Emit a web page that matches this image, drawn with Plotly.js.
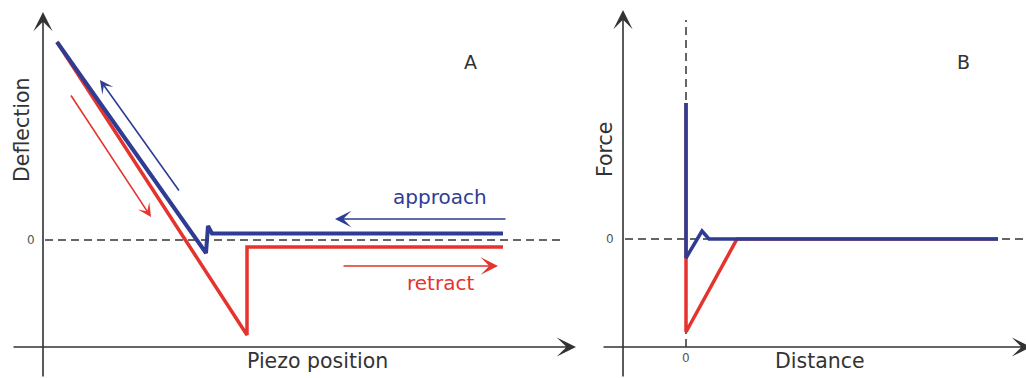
<!DOCTYPE html>
<html><head><meta charset="utf-8">
<script src="https://cdn.plot.ly/plotly-3.0.1.min.js"></script>
<style>html,body{margin:0;padding:0;background:#fff}#chart{width:1026px;height:378px}</style>
</head><body><div id="chart"></div>
<script>
// Panel A: cantilever deflection vs piezo position
const piezoApproach = [92, 33.8, 33, 32.6, 2.8];
const deflApproach  = [1.3, 1.3, 2.8, -2.6, 39.6];
const piezoRetract  = [2.8, 40.8, 40.8, 92];
const deflRetract   = [39.6, -19, -1.4, -1.4];
// Panel B: force vs tip-sample distance
const distApproach  = [62.4, 4.6, 3.2, 0, 0];
const forceApproach = [0, 0, 1.6, -3.8, 27.2];
const distRetract   = [0, 0, 10.2, 62.4];
const forceRetract  = [27.2, -18.6, 0, 0];

const blue = '#2f3c93';
const red = '#e5332d';
const ink = '#333333';
const font = 'DejaVu Sans';

function curve(x, y, color, width, xa, ya) {
  return {x: x, y: y, xaxis: xa, yaxis: ya, mode: 'lines', hoverinfo: 'skip',
          line: {color: color, width: width, shape: 'linear'}};
}

const data = [
  curve(piezoRetract, deflRetract, red, 3.5, 'x', 'y'),
  curve(piezoApproach, deflApproach, blue, 4, 'x', 'y'),
  curve(distRetract, forceRetract, red, 3.5, 'x2', 'y2'),
  curve(distApproach, forceApproach, blue, 3.5, 'x2', 'y2')
];

function dashed(xr, yr, x0, y0, x1, y1) {
  return {type: 'line', layer: 'below', xref: xr, yref: yr, x0: x0, y0: y0, x1: x1, y1: y1,
          line: {color: ink, width: 1.5, dash: '8px,5px'}};
}

function arrow(xr, yr, tx, ty, fx, fy, color, width, size) {
  return {xref: xr, yref: yr, axref: xr, ayref: yr, x: tx, y: ty, ax: fx, ay: fy,
          text: '', showarrow: true, arrowhead: 3, arrowsize: size,
          arrowwidth: width, arrowcolor: color, standoff: 0, startstandoff: 0};
}

function label(xr, yr, x, y, text, color, size, angle) {
  return {xref: xr, yref: yr, x: x, y: y, text: text, showarrow: false,
          textangle: angle || 0, font: {family: font, size: size, color: color}};
}

const layout = {
  width: 1026, height: 378,
  margin: {l: 0, r: 0, t: 0, b: 0},
  showlegend: false,
  font: {family: font},
  paper_bgcolor: '#ffffff', plot_bgcolor: '#ffffff',
  xaxis:  {domain: [0, 600 / 1026], range: [-8.6, 111.4], visible: false, fixedrange: true},
  yaxis:  {domain: [0, 1], range: [-27.6, 48], visible: false, fixedrange: true},
  xaxis2: {domain: [600 / 1026, 1], range: [-17.2, 68], visible: false, anchor: 'y2', fixedrange: true},
  yaxis2: {domain: [0, 1], range: [-27.8, 47.8], visible: false, anchor: 'x2', fixedrange: true},
  shapes: [
    dashed('x', 'y', 0.4, 0, 103.4, 0),
    dashed('x2', 'y2', -12.2, 0, 68, 0),
    dashed('x2', 'y2', 0, -21.6, 0, 43.8)
  ],
  annotations: [
    // axes of panel A
    arrow('x', 'y', 0, 45.6, 0, -27.6, ink, 1.6, 2),
    arrow('x', 'y', 106.6, -21.4, -6.2, -21.4, ink, 1.6, 2),
    // axes of panel B
    arrow('x2', 'y2', -12.6, 45.8, -12.6, -27.8, ink, 1.6, 2),
    arrow('x2', 'y2', 69, -21.6, -16.8, -21.6, ink, 1.6, 2),
    // direction arrows of panel A
    arrow('x', 'y', 11.4, 32, 27.4, 9.6, blue, 1.6, 1.4),
    arrow('x', 'y', 21.6, 4.6, 5.4, 29.2, red, 1.6, 1.4),
    arrow('x', 'y', 58.4, 4.2, 92.8, 4.2, blue, 1.7, 1.6),
    arrow('x', 'y', 91, -5.2, 59.8, -5.2, red, 1.7, 1.7),
    // texts
    label('x', 'y', -4.2, 22, 'Deflection', ink, 20.5, -90),
    label('x', 'y', 54.8, -24.2, 'Piezo position', ink, 20.5),
    label('x', 'y', 85.4, 35.6, 'A', ink, 19),
    label('x', 'y', 79.4, 8.6, 'approach', blue, 20),
    label('x', 'y', 79.4, -8.6, 'retract', red, 20),
    label('x', 'y', -2.4, 0, '0', '#555555', 12),
    label('x2', 'y2', -16.2, 17.8, 'Force', ink, 20.5, -90),
    label('x2', 'y2', 26.8, -24.4, 'Distance', ink, 20.5),
    label('x2', 'y2', 55.4, 35.4, 'B', ink, 19),
    label('x2', 'y2', -15.2, 0, '0', '#555555', 12),
    label('x2', 'y2', 0, -23.8, '0', '#555555', 12)
  ]
};

Plotly.newPlot('chart', data, layout, {staticPlot: true, displayModeBar: false});
</script>
</body></html>
